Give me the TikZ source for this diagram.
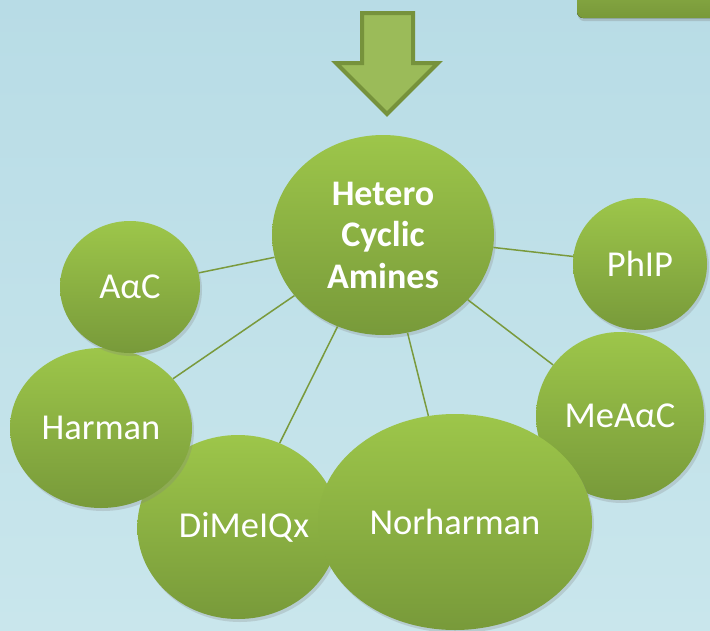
\documentclass[tikz,border=0pt]{standalone}
\usepackage{fontspec}
\setmainfont{Carlito}
\usetikzlibrary{shapes.geometric,shadows}

\definecolor{bgtop}{HTML}{B8DCE6}
\definecolor{bgbottom}{HTML}{C9E6EC}
\definecolor{leaftop}{HTML}{9DC64A}
\definecolor{leafbottom}{HTML}{789A3A}
\definecolor{linkgreen}{HTML}{7A9A3C}
\definecolor{arrowfill}{HTML}{9BBB59}
\definecolor{arrowdraw}{HTML}{76923C}
\definecolor{bartop}{HTML}{86A843}
\definecolor{barbottom}{HTML}{789939}

\begin{document}
\begin{tikzpicture}
  \tikzset{
    amine/.style={
      ellipse,
      top color=leaftop,
      bottom color=leafbottom,
      inner sep=0pt,
      text=white,
      font=\fontsize{36.5}{42}\selectfont,
      align=center,
      drop shadow={opacity=0.25, shadow xshift=2pt, shadow yshift=-3pt}
    },
    link/.style={draw=linkgreen, line width=1.5pt}
  }

  \useasboundingbox (0pt,0pt) rectangle (710pt,-630pt);
  \fill[top color=bgtop, bottom color=bgbottom] (0pt,0pt) rectangle (710pt,-630pt);

  % top right bar and the arrow
  \fill[top color=bartop, bottom color=barbottom, rounded corners=6pt,
        drop shadow={opacity=0.3, shadow xshift=1pt, shadow yshift=-3pt}]
    (577pt,10pt) rectangle (720pt,-18pt);
  \draw[draw=arrowdraw, fill=arrowfill, line width=4pt, miter limit=4]
    (362pt,-13pt) -- (413pt,-13pt) -- (413pt,-63pt) -- (438pt,-63pt)
    -- (387pt,-114pt) -- (336pt,-63pt) -- (362pt,-63pt) -- cycle;

  \node[amine, minimum width=168pt, minimum height=168pt] (meaac) at (620pt, -416pt) {MeAαC};
  \node[amine, minimum width=198pt, minimum height=184pt] (dimeiqx) at (238pt, -527pt) {\hspace{12pt}DiMeIQx};
  \node[amine, minimum width=274pt, minimum height=216pt] (norharman) at (455pt, -522pt) {Norharman};
  \node[amine, minimum width=182pt, minimum height=160pt] (harman) at (101pt, -428pt) {Harman};
  \node[amine, minimum width=140pt, minimum height=132pt] (aac) at (130pt, -287pt) {AαC};
  \node[amine, minimum width=134pt, minimum height=132pt] (phip) at (640pt, -264pt) {PhIP};
  \node[amine, minimum width=222pt, minimum height=200pt,
        font=\bfseries\fontsize{36}{41.5}\selectfont] (hca) at (383pt, -235pt) {Hetero\\Cyclic\\Amines};

  \draw[link] (hca) -- (aac);
  \draw[link] (hca) -- (phip);
  \draw[link] (hca) -- (harman);
  \draw[link] (hca) -- (dimeiqx);
  \draw[link] (hca) -- (norharman);
  \draw[link] (hca) -- (meaac);
\end{tikzpicture}
\end{document}
